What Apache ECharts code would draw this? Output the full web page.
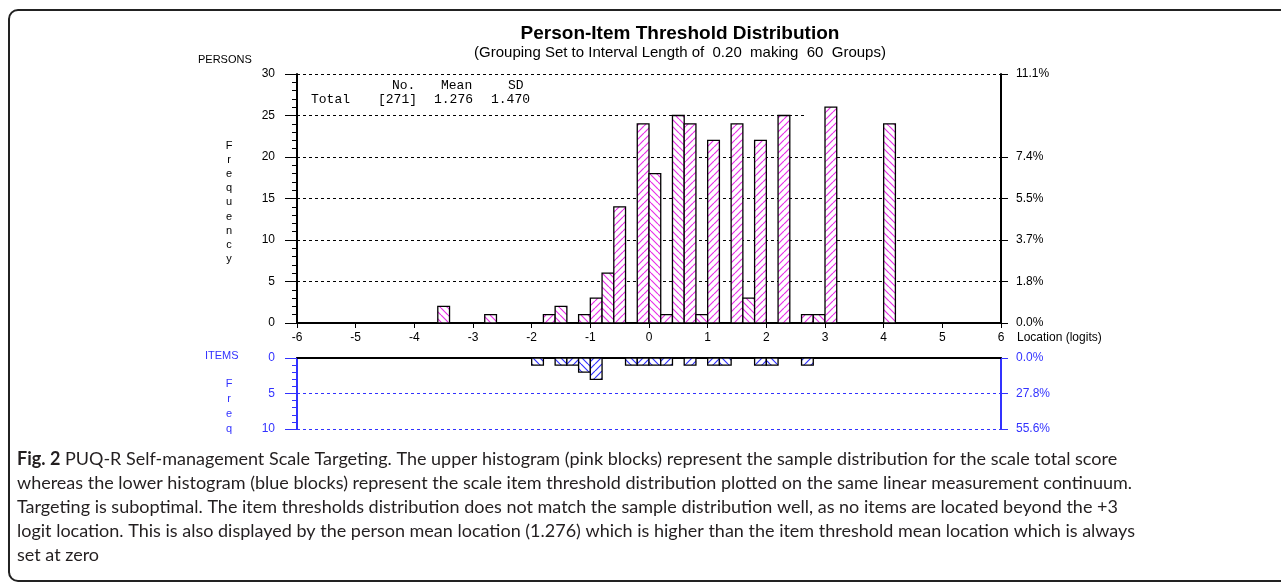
<!DOCTYPE html>
<html>
<head>
<meta charset="utf-8">
<script src="https://cdn.jsdelivr.net/npm/echarts@6/dist/echarts.min.js"></script>
<style>
  html, body { margin: 0; padding: 0; background: #fff; }
  #chart { width: 1281px; height: 584px; }
</style>
</head>
<body>
<div id="chart"></div>
<script>
// grouping interval (logits) – 60 groups from -6 to 6
const BIN = 0.2;

// persons: lower edge of each non-empty group and its frequency
const personLoc  = [-3.6, -2.8, -1.8, -1.6, -1.2, -1.0, -0.8, -0.6, -0.2, 0.0, 0.2, 0.4, 0.6, 0.8, 1.0, 1.4, 1.6, 1.8, 2.2, 2.6, 2.8, 3.0, 4.0];
const personFreq = [2, 1, 1, 2, 1, 3, 6, 14, 24, 18, 1, 25, 24, 1, 22, 24, 3, 22, 25, 1, 1, 26, 24];

// item thresholds
const itemLoc  = [-2.0, -1.6, -1.4, -1.2, -1.0, -0.4, -0.2, 0.0, 0.2, 0.6, 1.0, 1.2, 1.8, 2.0, 2.6];
const itemFreq = [1, 1, 1, 2, 3, 1, 1, 1, 1, 1, 1, 1, 1, 1, 1];

const personTotal = 271;
const itemTotal = 18;

// guide lines and right-hand ticks
const personGuides = [5, 10, 15, 20, 30];
const personShortGuide = 25;     // only drawn part way across
const personShortGuideEnd = 2.65;
const personPctTicks = [0, 5, 10, 15, 20, 30];
const itemGuides = [5, 10];

const statsHead = [["No.", 392], ["Mean", 441], ["SD", 508]];
const statsRow = [["Total", 311], ["[271]", 378], ["1.276", 434], ["1.470", 491]];

const titleText = "Person-Item Threshold Distribution";
const subText = "(Grouping Set to Interval Length of  0.20  making  60  Groups)";

const captionLead = "Fig. 2";
const captionLines = [
  " PUQ-R Self-management Scale Targeting. The upper histogram (pink blocks) represent the sample distribution for the scale total score",
  "whereas the lower histogram (blue blocks) represent the scale item threshold distribution plotted on the same linear measurement continuum.",
  "Targeting is suboptimal. The item thresholds distribution does not match the sample distribution well, as no items are located beyond the +3",
  "logit location. This is also displayed by the person mean location (1.276) which is higher than the item threshold mean location which is always",
  "set at zero"
];

const FONT = "'Liberation Sans', Arial, sans-serif";
const BLUE = "#3232ff";
const PINK = "#e830e8";

function hatch(color, forward) {
  const s = 7;
  const c = document.createElement("canvas");
  c.width = s; c.height = s;
  const ctx = c.getContext("2d");
  ctx.fillStyle = "#fff";
  ctx.fillRect(0, 0, s, s);
  ctx.strokeStyle = color;
  ctx.lineWidth = 1.2;
  ctx.beginPath();
  for (const o of [-s, 0, s]) {
    if (forward) { ctx.moveTo(o, s); ctx.lineTo(o + s, 0); }
    else { ctx.moveTo(o, 0); ctx.lineTo(o + s, s); }
  }
  ctx.stroke();
  return { image: c, repeat: "repeat" };
}

const pinkFwd = hatch(PINK, true), pinkBack = hatch(PINK, false);
const blueFwd = hatch(BLUE, true), blueBack = hatch(BLUE, false);

function binRender(fwd, back) {
  return function (params, api) {
    const x0 = api.value(0);
    const v = api.value(1);
    const a = api.coord([x0, 0]);
    const b = api.coord([x0 + BIN, v]);
    const k = Math.round((x0 + 6) / BIN);
    return {
      type: "rect",
      shape: { x: a[0], y: Math.min(a[1], b[1]), width: b[0] - a[0], height: Math.abs(b[1] - a[1]) },
      style: { fill: k % 2 ? fwd : back, stroke: "#000", lineWidth: 1.3 }
    };
  };
}

// fit caption font size to the reference line width
const mctx = document.createElement("canvas").getContext("2d");
mctx.font = "bold 17px Lato";
let capW = mctx.measureText(captionLead).width;
mctx.font = "17px Lato";
capW += mctx.measureText(captionLines[0]).width;
const capSize = Math.round(17 * 1103 / capW * 10) / 10;

const chart = echarts.init(document.getElementById("chart"), null, { renderer: "canvas" });

const axisText = { color: "#000", fontSize: 12, fontFamily: FONT };
const blueText = { color: BLUE, fontSize: 12, fontFamily: FONT };

const graphics = [
  { type: "rect", shape: { x: 9, y: 10, width: 1300, height: 571, r: 9 }, style: { fill: null, stroke: "#222", lineWidth: 2 }, silent: true },
  { type: "text", x: 680, y: 34, style: { text: titleText, font: "bold 19px " + FONT, fill: "#000", align: "center", verticalAlign: "middle" } },
  { type: "text", x: 680, y: 53, style: { text: subText, font: "15px " + FONT, fill: "#000", align: "center", verticalAlign: "middle" } },
  { type: "text", x: 198, y: 60, style: { text: "PERSONS", font: "11px " + FONT, fill: "#000", verticalAlign: "middle" } },
  { type: "text", x: 229, y: 139, style: { text: "Frequency".split("").join("\n"), font: "11px " + FONT, lineHeight: 14.1, fill: "#000", align: "center", verticalAlign: "top" } },
  { type: "text", x: 205, y: 356, style: { text: "ITEMS", font: "11px " + FONT, fill: BLUE, verticalAlign: "middle" } },
  { type: "text", x: 229, y: 376, style: { text: "Freq".split("").join("\n"), font: "11px " + FONT, lineHeight: 15, fill: BLUE, align: "center", verticalAlign: "top" } },
  { type: "text", x: 1017, y: 338, style: { text: "Location (logits)", font: "12px " + FONT, fill: "#000", verticalAlign: "middle" } }
];
statsHead.forEach(([t, x]) => graphics.push({ type: "text", x: x, y: 86, style: { text: t, font: "13px 'Liberation Mono', monospace", fill: "#000", verticalAlign: "middle" } }));
statsRow.forEach(([t, x]) => graphics.push({ type: "text", x: x, y: 100, style: { text: t, font: "13px 'Liberation Mono', monospace", fill: "#000", verticalAlign: "middle" } }));
captionLines.forEach((line, i) => {
  graphics.push({
    type: "text", x: 17, y: 459 + i * 24,
    style: {
      text: i === 0 ? "{b|" + captionLead + "}" + line : line,
      font: capSize + "px Lato", fill: "#231f20", verticalAlign: "middle",
      rich: { b: { fontWeight: "bold", fontSize: capSize, fontFamily: "Lato", fill: "#231f20" } }
    }
  });
});

const option = {
  animation: false,
  backgroundColor: "#fff",
  grid: [
    { left: 297, right: 280, top: 74, height: 249 },
    { left: 297, right: 280, top: 358, height: 71 }
  ],
  xAxis: [
    {
      gridIndex: 0, type: "value", min: -6, max: 6, interval: 1,
      axisLine: { onZero: false, lineStyle: { color: "#000", width: 2 } },
      axisTick: { length: 5, lineStyle: { color: "#000" } },
      axisLabel: { ...axisText, margin: 9 },
      splitLine: { show: false }
    },
    {
      gridIndex: 1, type: "value", min: -6, max: 6, interval: 1, position: "top",
      axisLine: { onZero: false, lineStyle: { color: "#000", width: 2 } },
      axisTick: { show: false }, axisLabel: { show: false }, splitLine: { show: false }
    }
  ],
  yAxis: [
    {
      gridIndex: 0, type: "value", min: 0, max: 30, interval: 5, position: "left",
      axisLine: { show: true, onZero: false, lineStyle: { color: "#000", width: 2 } },
      axisTick: { show: true, length: 12, lineStyle: { color: "#000" } },
      minorTick: { show: true, splitNumber: 5, length: 5, lineStyle: { color: "#000" } },
      axisLabel: { ...axisText, margin: 22 },
      splitLine: { show: false }
    },
    {
      gridIndex: 0, type: "value", min: 0, max: 30, interval: 5, position: "right",
      axisLine: { show: true, onZero: false, lineStyle: { color: "#000", width: 2 } },
      axisTick: { show: true, length: 7, customValues: personPctTicks, lineStyle: { color: "#000" } },
      axisLabel: {
        ...axisText, margin: 15, customValues: personPctTicks,
        formatter: v => personPctTicks.includes(v) ? (v / personTotal * 100).toFixed(1) + "%" : ""
      },
      splitLine: { show: false }
    },
    {
      gridIndex: 1, type: "value", min: 0, max: 10, interval: 5, inverse: true, position: "left",
      axisLine: { show: true, onZero: false, lineStyle: { color: BLUE, width: 2 } },
      axisTick: { show: true, length: 12, lineStyle: { color: BLUE } },
      minorTick: { show: true, splitNumber: 5, length: 5, lineStyle: { color: BLUE } },
      axisLabel: { ...blueText, margin: 22 },
      splitLine: { show: false }
    },
    {
      gridIndex: 1, type: "value", min: 0, max: 10, interval: 5, inverse: true, position: "right",
      axisLine: { show: true, onZero: false, lineStyle: { color: BLUE, width: 2 } },
      axisTick: { show: true, length: 7, lineStyle: { color: BLUE } },
      axisLabel: { ...blueText, margin: 15, formatter: v => (v / itemTotal * 100).toFixed(1) + "%" },
      splitLine: { show: false }
    }
  ],
  series: [
    {
      name: "Persons", type: "custom", xAxisIndex: 0, yAxisIndex: 0, z: 3,
      data: personLoc.map((x, i) => [x, personFreq[i]]),
      encode: { x: 0, y: 1 },
      renderItem: binRender(pinkFwd, pinkBack),
      markLine: {
        silent: true, symbol: "none", z: 1, animation: false,
        label: { show: false },
        lineStyle: { color: "#000", type: [3, 3], width: 1 },
        data: [
          ...personGuides.map(v => ({ yAxis: v })),
          [{ coord: [-6, personShortGuide] }, { coord: [personShortGuideEnd, personShortGuide] }]
        ]
      }
    },
    {
      name: "Items", type: "custom", xAxisIndex: 1, yAxisIndex: 2, z: 3,
      data: itemLoc.map((x, i) => [x, itemFreq[i]]),
      encode: { x: 0, y: 1 },
      renderItem: binRender(blueFwd, blueBack),
      markLine: {
        silent: true, symbol: "none", z: 1, animation: false,
        label: { show: false },
        lineStyle: { color: BLUE, type: [3, 3], width: 1 },
        data: itemGuides.map(v => ({ yAxis: v }))
      }
    }
  ],
  graphic: graphics
};

chart.setOption(option);
</script>
</body>
</html>
